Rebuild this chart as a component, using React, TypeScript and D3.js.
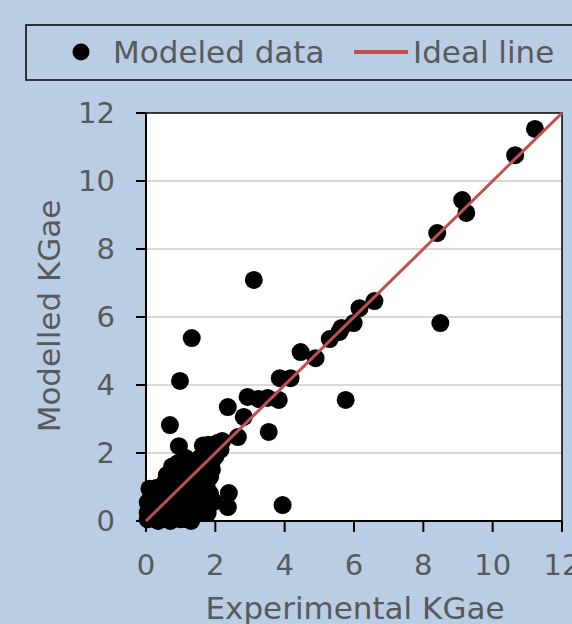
import React from 'react';
import * as d3 from 'd3';

// experimental vs modelled KGae
const expValues = [
  11.22, 10.65, 9.12, 9.24, 8.4, 8.49, 6.59, 6.16, 5.99, 5.64, 5.58, 5.3, 5.76,
  4.89, 4.46, 4.17, 3.86, 3.83, 3.51, 3.25, 2.93, 2.36, 2.82, 3.54, 2.65, 3.11,
  3.94, 2.39, 2.36, 1.32, 0.98, 0.69, 0.95, 1.64, 1.8, 2.07, 2.2,
  0.05, 0.1, 0.05, 0.15, 0.2, 0.25, 0.3, 0.35, 0.4, 0.45, 0.5, 0.55, 0.6, 0.65,
  0.7, 0.75, 0.8, 0.85, 0.9, 0.95, 1.0, 1.0, 1.05, 1.1, 1.15, 1.2, 1.25, 1.3,
  1.35, 1.4, 1.45, 1.5, 1.55, 1.6, 1.65, 1.7, 1.75, 1.8, 1.85, 1.95, 2.05, 2.15,
  0.7, 1.0, 1.3, 1.6, 1.78, 1.96, 0.92, 0.29, 0.1, 0.6, 0.75, 1.15, 1.2, 0.2,
  0.35, 1.5, 1.7, 1.9, 1.4, 0.85, 1.1,
  0.3, 0.5, 0.65, 0.85, 1.05, 1.25, 1.45, 1.6, 1.35, 1.55, 1.75, 1.85, 1.2, 0.9,
  1.45, 1.65, 0.4, 1.0, 1.3, 0.55, 0.15, 0.05, 1.9, 1.7, 2.0, 0.85, 1.1,
];
const modValues = [
  11.53, 10.76, 9.44, 9.06, 8.47, 5.82, 6.47, 6.26, 5.82, 5.68, 5.56, 5.35, 3.56,
  4.79, 4.97, 4.2, 4.2, 3.56, 3.62, 3.59, 3.65, 3.35, 3.06, 2.62, 2.47, 7.09,
  0.47, 0.82, 0.41, 5.38, 4.12, 2.82, 2.2, 2.22, 2.24, 2.3, 2.35,
  0.05, 0.3, 0.55, 0.7, 0.45, 0.15, 0.9, 0.55, 0.3, 0.05, 0.7, 0.4, 0.15, 1.0,
  0.6, 0.3, 1.3, 0.85, 0.5, 0.15, 1.5, 1.1, 0.7, 0.35, 1.25, 0.9, 0.55, 0.2,
  1.6, 1.2, 0.8, 0.45, 1.85, 1.45, 1.05, 0.65, 1.95, 1.7, 1.3, 2.05, 2.2, 2.1,
  0.0, 0.05, 0.0, 0.25, 0.24, 0.56, 1.7, 0.97, 0.95, 1.35, 1.6, 1.85, 0.05, 0.2,
  0.0, 1.1, 1.2, 1.5, 0.4, 0.2, 1.7,
  0.6, 0.95, 0.75, 1.15, 1.35, 1.45, 1.6, 1.8, 0.4, 0.7, 1.0, 0.8, 0.65, 0.3,
  1.05, 1.25, 0.85, 0.9, 1.0, 1.15, 0.4, 0.25, 1.75, 1.55, 1.9, 0.65, 0.55,
];
const xTicks = [0, 2, 4, 6, 8, 10, 12];
const yTicks = [0, 2, 4, 6, 8, 10, 12];
const idealLine = [0, 12];

const W = 572;
const H = 624;
const left = 146, right = 562, top = 113, bottom = 521;
const font = '"DejaVu Sans", Verdana, sans-serif';
const grey = '#595959';
const red = '#c0504d';

export default function App() {
  const x = d3.scaleLinear().domain([0, 12]).range([left, right]);
  const y = d3.scaleLinear().domain([0, 12]).range([bottom, top]);
  const pts = expValues.map((e, i) => [e, modValues[i]]);
  const line = d3.line<number>().x(d => x(d)).y(d => y(d));

  return (
    <div style={{ position: 'fixed', left: 0, top: 0 }}>
      <svg width={W} height={H} style={{ display: 'block' }} fontFamily={font}>
        <rect x={0} y={0} width={W} height={H} fill="#b9cde5" />

        {/* legend */}
        <rect x={26} y={25} width={560} height={55} fill="none" stroke="#000" strokeWidth={1.5} />
        <circle cx={81} cy={52} r={8.5} fill="#000" />
        <text x={113} y={52} dy="0.35em" fontSize={31} fill={grey}>Modeled data</text>
        <line x1={354} x2={408} y1={52} y2={52} stroke={red} strokeWidth={4} />
        <text x={413} y={52} dy="0.35em" fontSize={31} fill={grey}>Ideal line</text>

        {/* plot area */}
        <rect x={left} y={top} width={right - left} height={bottom - top} fill="#fff" />
        {yTicks.filter(t => t > 0 && t < 12).map(t => (
          <line key={'g' + t} x1={left} x2={right} y1={y(t)} y2={y(t)} stroke="#d9d9d9" strokeWidth={2} />
        ))}
        <rect x={left} y={top} width={right - left} height={bottom - top} fill="none" stroke="#000" strokeWidth={1.5} />

        {/* axes */}
        <line x1={left} x2={left} y1={top} y2={bottom} stroke="#000" strokeWidth={2} />
        <line x1={left} x2={right} y1={bottom} y2={bottom} stroke="#000" strokeWidth={2} />
        {yTicks.map(t => (
          <g key={'y' + t}>
            <line x1={left - 10} x2={left} y1={y(t)} y2={y(t)} stroke="#000" strokeWidth={2} />
            <text x={115} y={y(t)} dy="0.36em" textAnchor="end" fontSize={29} fill={grey}>{t}</text>
          </g>
        ))}
        {xTicks.map(t => (
          <g key={'x' + t}>
            <line x1={x(t)} x2={x(t)} y1={bottom} y2={bottom + 11} stroke="#000" strokeWidth={2} />
            <text x={x(t)} y={565} dy="0.36em" textAnchor="middle" fontSize={29} fill={grey}>{t}</text>
          </g>
        ))}

        {/* points */}
        {pts.map((p, i) => (
          <circle key={i} cx={x(p[0])} cy={y(p[1])} r={9} fill="#000" />
        ))}

        {/* ideal line */}
        <path d={line(idealLine) || ''} stroke={red} strokeWidth={3} fill="none" />

        {/* axis titles */}
        <text x={355} y={608} dy="0.36em" textAnchor="middle" fontSize={31} fill={grey}>Experimental KGae</text>
        <text transform="translate(49,316) rotate(-90)" dy="0.36em" textAnchor="middle" fontSize={31} fill={grey}>Modelled KGae</text>
      </svg>
    </div>
  );
}
